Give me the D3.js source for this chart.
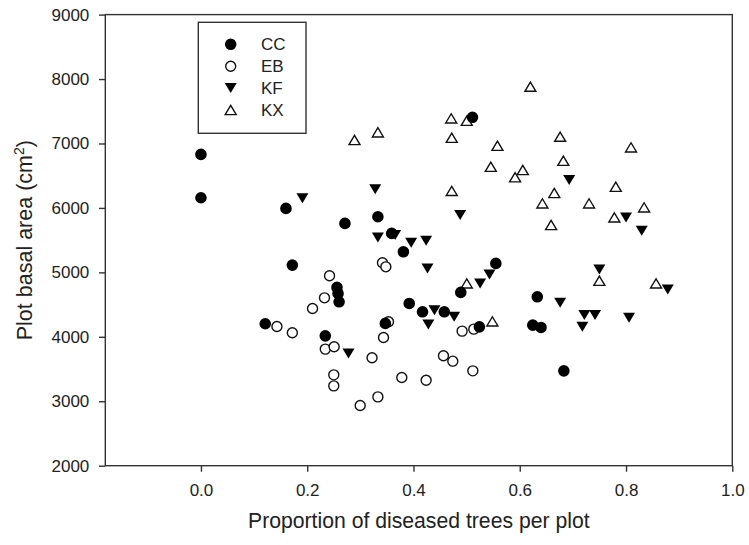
<!DOCTYPE html>
<html><head><meta charset="utf-8">
<script src="https://cdn.jsdelivr.net/npm/d3@7"></script>
<style>body{margin:0;background:#fff}</style>
</head><body>
<svg id="c" width="749" height="545"></svg>
<script>
// ---- data ----
const seriesNames = ["CC", "EB", "KF", "KX"];
const ccX = [0.0, 0.0, 0.160, 0.172, 0.121, 0.234, 0.256, 0.258, 0.260, 0.271, 0.333, 0.359, 0.381, 0.347, 0.392, 0.417, 0.458, 0.489, 0.524, 0.555, 0.511, 0.6245, 0.640, 0.633, 0.683];
const ccY = [6831, 6158, 5993, 5113, 4203, 4015, 4767, 4673, 4543, 5760, 5863, 5605, 5319, 4208, 4518, 4388, 4388, 4689, 4155, 5139, 7406, 4181, 4145, 4621, 3472];
const ebX = [0.143, 0.172, 0.210, 0.2325, 0.242, 0.234, 0.2507, 0.250, 0.250, 0.2997, 0.322, 0.333, 0.3436, 0.353, 0.3416, 0.348, 0.378, 0.4238, 0.4564, 0.474, 0.4915, 0.5135, 0.5117];
const ebY = [4160, 4062, 4440, 4605, 4947, 3809, 3845, 3410, 3239, 2934, 3674, 3068, 3990, 4233, 5149, 5086, 3369, 3327, 3705, 3622, 4088, 4119, 3472];
const kfX = [0.191, 0.2777, 0.328, 0.333, 0.3655, 0.3956, 0.4238, 0.4263, 0.4878, 0.4395, 0.4765, 0.428, 0.5254, 0.543, 0.676, 0.693, 0.7216, 0.7417, 0.7178, 0.8057, 0.7498, 0.800, 0.8296, 0.8785];
const kfY = [6149, 3742, 6290, 5543, 5579, 5459, 5490, 5061, 5889, 4414, 4310, 4190, 4829, 4968, 4528, 6432, 4337, 4337, 4155, 4295, 5046, 5853, 5646, 4736];
const kxX = [0.289, 0.333, 0.471, 0.5003, 0.472, 0.472, 0.5485, 0.5003, 0.558, 0.5455, 0.5912, 0.6057, 0.620, 0.6426, 0.665, 0.659, 0.676, 0.682, 0.7304, 0.778, 0.7807, 0.8094, 0.834, 0.7498, 0.8565];
const kxY = [7054, 7173, 7390, 7353, 7089, 6264, 4240, 4829, 6965, 6639, 6475, 6588, 7881, 6071, 6231, 5734, 7105, 6732, 6071, 5853, 6329, 6940, 6009, 4869, 4829];
const xTicks = [0.0, 0.2, 0.4, 0.6, 0.8, 1.0];
const yTicks = [2000, 3000, 4000, 5000, 6000, 7000, 8000, 9000];
const xTitle = "Proportion of diseased trees per plot";
const yTitle = "Plot basal area (cm";

// ---- layout ----
const L = 105.3, R = 732.3, T = 14.6, B = 465.7;
const axisColor = "#333";
const font = "'Liberation Sans', Arial, sans-serif";

const svg = d3.select("#c");
const x = d3.scaleLinear().domain([-0.18, 1.0]).range([L, R]);
const y = d3.scaleLinear().domain([2000, 9000]).range([B, T]);

const shapes = {
  CC: {d: "M-5.8,0a5.8,5.8 0 1,0 11.6,0a5.8,5.8 0 1,0 -11.6,0Z", fill: "#000", stroke: "none", sw: 0},
  EB: {d: "M-5,0a5,5 0 1,0 10,0a5,5 0 1,0 -10,0Z", fill: "#fff", stroke: "#111", sw: 1.4},
  KF: {d: "M-6,-5L6,-5L0,5Z", fill: "#000", stroke: "none", sw: 0},
  KX: {d: "M-5.5,4.6L5.5,4.6L0,-4.6Z", fill: "#fff", stroke: "#111", sw: 1.4}
};

const series = {
  CC: ccX.map((v, i) => [v, ccY[i]]),
  EB: ebX.map((v, i) => [v, ebY[i]]),
  KF: kfX.map((v, i) => [v, kfY[i]]),
  KX: kxX.map((v, i) => [v, kxY[i]])
};

// frame
svg.append("rect").attr("x", L).attr("y", T).attr("width", R - L).attr("height", B - T)
  .attr("fill", "none").attr("stroke", axisColor).attr("stroke-width", 1.4);

// axes
const xAxis = svg.append("g").attr("transform", `translate(0,${B})`)
  .call(d3.axisBottom(x).tickValues(xTicks).tickFormat(d3.format(".1f")).tickSize(6).tickPadding(12));
const yAxis = svg.append("g").attr("transform", `translate(${L},0)`)
  .call(d3.axisLeft(y).tickValues(yTicks).tickFormat(d3.format("d")).tickSize(6.3).tickPadding(9.7));
[xAxis, yAxis].forEach(g => {
  g.select(".domain").remove();
  g.selectAll("line").attr("stroke", axisColor).attr("stroke-width", 1.4);
  g.selectAll("text").attr("fill", "#222").style("font-family", font).style("font-size", "17px");
});

// titles
svg.append("text").attr("x", (L + R) / 2).attr("y", 528).attr("text-anchor", "middle")
  .attr("fill", "#222").style("font-family", font).style("font-size", "21.2px").text(xTitle);
const yt = svg.append("text").attr("transform", `translate(32,${(T + B) / 2}) rotate(-90)`)
  .attr("text-anchor", "middle").attr("fill", "#222").style("font-family", font).style("font-size", "21.5px");
yt.append("tspan").text(yTitle);
yt.append("tspan").attr("dy", "-8").style("font-size", "14px").text("2");
yt.append("tspan").attr("dy", "8").text(")");

// points
["KX", "EB", "CC", "KF"].forEach(k => {
  const s = shapes[k];
  svg.append("g").selectAll("path").data(series[k]).join("path")
    .attr("d", s.d).attr("transform", d => `translate(${x(d[0])},${y(d[1])})`)
    .attr("fill", s.fill).attr("stroke", s.stroke).attr("stroke-width", s.sw);
});

// legend
const lg = svg.append("g");
lg.append("rect").attr("x", 198.3).attr("y", 22.3).attr("width", 107.7).attr("height", 111)
  .attr("fill", "#fff").attr("stroke", axisColor).attr("stroke-width", 1.4);
const rowY = d3.scalePoint().domain(seriesNames).range([44.3, 110]);
seriesNames.forEach(k => {
  const s = shapes[k];
  lg.append("path").attr("d", s.d).attr("transform", `translate(230.7,${rowY(k)})`)
    .attr("fill", s.fill).attr("stroke", s.stroke).attr("stroke-width", s.sw);
  lg.append("text").attr("x", 261).attr("y", rowY(k)).attr("dy", "0.36em")
    .attr("fill", "#222").style("font-family", font).style("font-size", "17px").text(k);
});
</script>
</body></html>
